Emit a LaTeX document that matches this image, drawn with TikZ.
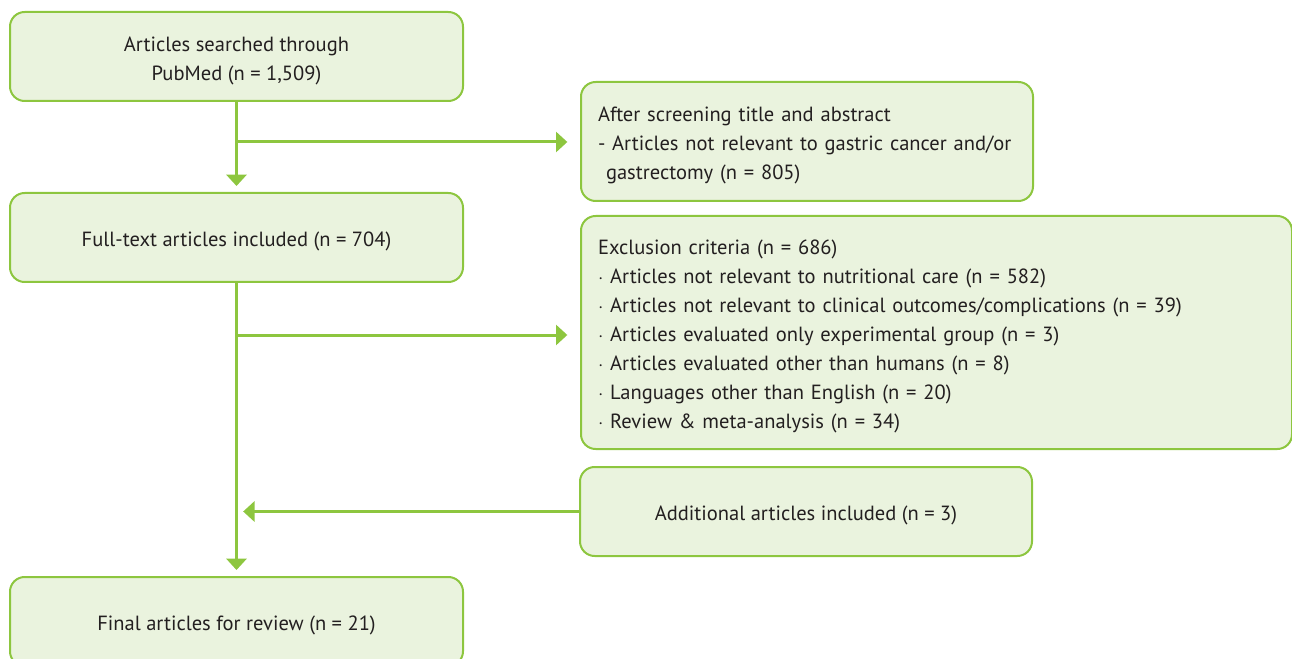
\documentclass[tikz,border=0pt]{standalone}
\usepackage{fontspec}
\setmainfont{PT Sans}
\usetikzlibrary{arrows.meta,calc}
\definecolor{gline}{HTML}{8DC63F}
\definecolor{gfill}{HTML}{EAF3DE}
\definecolor{txt}{HTML}{231F20}
\newcommand{\lowc}[1]{\raisebox{-2.6pt}[\height][\depth]{\begin{tabular}{@{}c@{}}#1\end{tabular}}}
\newcommand{\lowl}[1]{\raisebox{-2.6pt}[\height][\depth]{\begin{tabular}{@{}l@{}}#1\end{tabular}}}
\begin{document}
\begin{tikzpicture}[x=0.75pt,y=-0.75pt,
  box/.style={draw=gline,fill=gfill,line width=1.5pt,rounded corners=11pt,
    text=txt,font=\fontsize{15.4}{21.75}\selectfont,inner sep=0pt},
  cbox/.style={box},
  lbox/.style={box,inner xsep=12.75pt,anchor=west},
  arr/.style={draw=gline,line width=2.25pt,-{Triangle[length=8.5pt,width=15pt]}}]
\useasboundingbox (0,0) rectangle (1292,659);
\clip (0,0) rectangle (1292,659);
\node[cbox,minimum width=339.75pt,minimum height=66.75pt] (a) at (236.5,56.5) {\lowc{Articles searched through\\PubMed (n = 1,509)}};
\node[lbox,minimum height=89.25pt,text width=313.5pt] (s) at (580,141.5) {\lowl{After screening title and abstract\\- Articles not relevant to gastric cancer and/or\\\hspace*{6pt}gastrectomy (n = 805)}};
\node[cbox,minimum width=339.75pt,minimum height=66.75pt] (f) at (236.5,237.5) {\lowc{Full-text articles included (n = 704)}};
\node[lbox,minimum height=174.75pt,text width=507.75pt] (e) at (580,332.5) {\lowl{Exclusion criteria (n = 686)\\
$\cdot$ Articles not relevant to nutritional care (n = 582)\\
$\cdot$ Articles not relevant to clinical outcomes/complications (n = 39)\\
$\cdot$ Articles evaluated only experimental group (n = 3)\\
$\cdot$ Articles evaluated other than humans (n = 8)\\
$\cdot$ Languages other than English (n = 20)\\
$\cdot$ Review \& meta-analysis (n = 34)}};
\node[cbox,minimum width=339pt,minimum height=66.75pt] (d) at (806,511.5) {\lowc{Additional articles included (n = 3)}};
\node[cbox,minimum width=339.75pt,minimum height=66.75pt] (r) at (236.5,621.5) {\lowc{Final articles for review (n = 21)}};
\coordinate (j1) at (236,142);
\coordinate (j2) at (236,335);
\draw[arr,shorten >=4.5pt] (a.south) -- (f.north);
\draw[arr,shorten >=9.5pt] (j1) -- (j1 -| s.west);
\draw[arr,shorten >=4.5pt] (f.south) -- (r.north);
\draw[arr,shorten >=9.5pt] (j2) -- (j2 -| e.west);
\draw[arr,shorten >=5pt] (d.west) -- (d.west -| f.south);
\end{tikzpicture}
\end{document}
